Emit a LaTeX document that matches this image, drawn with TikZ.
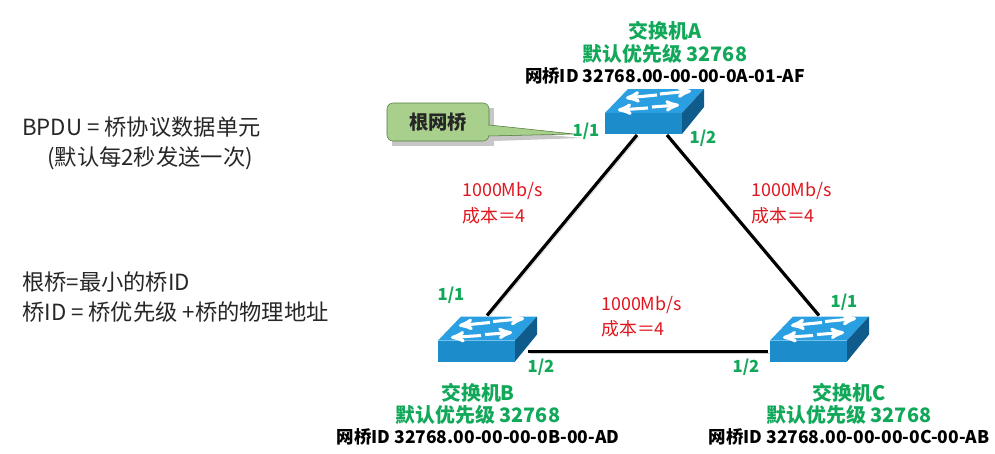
\documentclass[tikz,border=0pt]{standalone}
\usepackage{fontspec}
\setmainfont{Noto Sans CJK SC}
\usetikzlibrary{arrows,calc}
\definecolor{labelgreen}{HTML}{12A85A}
\definecolor{costred}{HTML}{E0161E}
\definecolor{swtop}{HTML}{2A9FE2}
\definecolor{swfront}{HTML}{1C8CCB}
\definecolor{swside}{HTML}{0F5C8C}
\definecolor{rootfill}{HTML}{A9CF8C}
\definecolor{rootline}{HTML}{4F7A3A}
\begin{document}
\begin{tikzpicture}
[x=0.75pt,y=-0.75pt,>=stealth',
greenlabel/.style={font=\fontsize{14.9}{17}\selectfont\bfseries,text=labelgreen,inner sep=0pt},
portlabel/.style={font=\fontsize{12.5}{15}\selectfont\bfseries,text=labelgreen,inner sep=0pt},
idlabel/.style={font=\fontsize{13.1}{15}\selectfont\bfseries,text=black,inner sep=0pt},
costlabel/.style={font=\fontsize{13.4}{15}\selectfont,text=costred,inner sep=0pt,anchor=west},
notelabel/.style={font=\fontsize{16.7}{19}\selectfont,text=black!85,inner sep=0pt,anchor=west},
link/.style={line width=2.4pt,black,preaction={draw=black!18,transform canvas={shift={(1.2pt,-1.5pt)}}}},
swarrow/.style={->,white,line width=2.3pt},
switchbox/.pic={
\fill[swtop] (0,-21) -- (23,-45) -- (99,-45) -- (77,-21) -- cycle;
\fill[swfront] (0,0) rectangle (77,-21);
\fill[swside] (77,0) -- (99,-27) -- (99,-45) -- (77,-21) -- cycle;
\draw[swarrow] (52,-39) -- (21,-36);
\draw[swarrow] (55,-40) -- (86,-43);
\draw[swarrow] (43,-26) -- (13,-24);
\draw[swarrow] (47,-27) -- (74,-29);
\coordinate (-top) at (49,-46);
\coordinate (-right) at (90,-10);
\coordinate (-left) at (-2,-10);
\coordinate (-downl) at (32,1);
\coordinate (-downr) at (62,1);
}]
\useasboundingbox (0,0) rectangle (995,453);

\node[notelabel] (bpduline) at (22,127) {BPDU = 桥协议数据单元};
\node[notelabel] (sendline) at (47,158) {(默认每2秒发送一次)};
\node[notelabel] (rootline) at (22,282) {根桥=最小的桥ID};
\node[notelabel] (bidline) at (22,312) {桥ID = 桥优先级 +桥的物理地址};

\pic (switcha) at (605,134) {switchbox};
\pic (switchb) at (438,361.5) {switchbox};
\pic (switchc) at (770,361.5) {switchbox};

\draw[link] (switcha-downl) -- (switchb-top);
\draw[link] (switcha-downr) -- (switchc-top);
\draw[link] (switchb-right) -- (switchc-left);

\coordinate (tailtip) at (574,134);
\fill[black!22] (392,108) rectangle (494,146);
\fill[black!22] (494,130) -- (582,138) -- (494,141) -- cycle;
\node[draw=rootline,fill=rootfill,rounded corners=4.5pt,minimum width=76.5pt,minimum height=28.5pt,inner sep=0pt,font=\fontsize{14.5}{16}\selectfont\bfseries,text=black!85] (rootbridge) at (438,122) {根网桥};
\filldraw[draw=rootline,fill=rootfill] ($(rootbridge.east)+(0,3)$) -- (tailtip) -- ($(rootbridge.east)+(0,14)$);
\fill[rootfill] ($(rootbridge.east)+(-1,3.6)$) rectangle ($(rootbridge.east)+(1.5,13.4)$);

\node[greenlabel] (namea) at (665,31) {交换机A};
\node[greenlabel] (prioa) at (665,54) {默认优先级 32768};
\node[idlabel] (ida) at (665,76) {网桥ID 32768.00-00-00-0A-01-AF};
\node[greenlabel] (nameb) at (478,393) {交换机B};
\node[greenlabel] (priob) at (478,415) {默认优先级 32768};
\node[idlabel] (idb) at (478,437) {网桥ID 32768.00-00-00-0B-00-AD};
\node[greenlabel] (namec) at (849,393) {交换机C};
\node[greenlabel] (prioc) at (849,415) {默认优先级 32768};
\node[idlabel] (idc) at (849,437) {网桥ID 32768.00-00-00-0C-00-AB};

\node[portlabel] (porta1) at (586,131) {1/1};
\node[portlabel] (porta2) at (703,138) {1/2};
\node[portlabel] (portb1) at (451,295) {1/1};
\node[portlabel] (portb2) at (541,367) {1/2};
\node[portlabel] (portc1) at (844,302) {1/1};
\node[portlabel] (portc2) at (746,367) {1/2};

\node[costlabel] (speedab) at (462,191) {1000Mb/s};
\node[costlabel] (costab) at (462,216) {成本＝4};
\node[costlabel] (speedac) at (751,191) {1000Mb/s};
\node[costlabel] (costac) at (751,216) {成本＝4};
\node[costlabel] (speedbc) at (601,305) {1000Mb/s};
\node[costlabel] (costbc) at (601,329) {成本＝4};
\end{tikzpicture}
\end{document}
